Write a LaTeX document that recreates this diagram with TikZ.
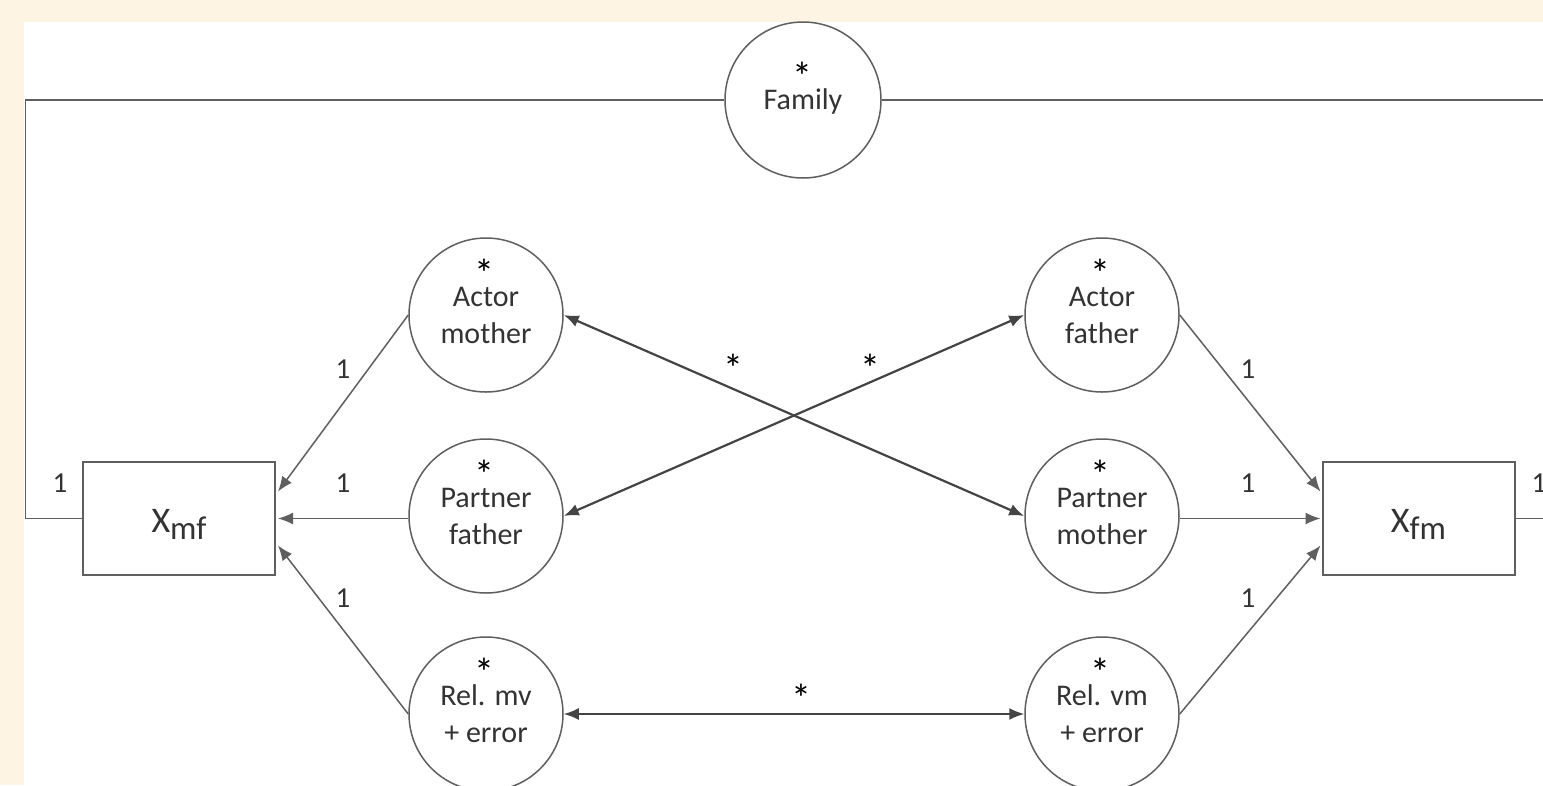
\documentclass[tikz,border=0pt]{standalone}
\usepackage{fontspec}
\setmainfont{Carlito}
\usetikzlibrary{arrows.meta,calc}
\definecolor{cream}{HTML}{FEF4E4}
\definecolor{lin}{HTML}{5F5F5F}
\definecolor{dark}{HTML}{444444}
\definecolor{txt}{HTML}{333333}
\newcommand{\stargl}{\raisebox{0pt}[\height][-15pt]{*}}
\begin{document}
\begin{tikzpicture}[x=1pt,y=-1pt,
  circ/.style={circle,draw=lin,line width=1.5pt,minimum size=154pt,inner sep=0pt,fill=white},
  box/.style={draw=lin,line width=2pt,minimum width=192pt,minimum height=113pt,inner sep=0pt},
  lab/.style={font=\fontsize{30}{37}\selectfont,text=txt,inner sep=0pt},
  strn/.style={font=\fontsize{40}{40}\selectfont,text=black,inner sep=0pt,anchor=base},
  one/.style={font=\fontsize{29}{35}\selectfont,text=txt,inner sep=0pt},
  arr/.style={draw=lin,line width=1.5pt,-{Latex[length=15pt,width=12pt]}},
  darr/.style={draw=dark,line width=2.2pt,{Latex[length=15pt,width=12pt]}-{Latex[length=15pt,width=12pt]}},
  plain/.style={draw=lin,line width=1.8pt}]
\useasboundingbox (0,0) rectangle (1543,785);
\fill[cream] (0,0) rectangle (1543,785);
\fill[white] (24,22) rectangle (1543,785);

% nodes
\node[circ,minimum size=156pt] (fam) at (803,100) {};
\node[circ] (am) at (486,315) {};
\node[circ] (af) at (1102,315) {};
\node[circ] (pf) at (486,516) {};
\node[circ] (pm) at (1102,516) {};
\node[circ] (rmv) at (486,714) {};
\node[circ] (rvm) at (1102,714) {};
\node[box] (xmf) at (179,518.5) {};
\node[box] (xfm) at (1418.5,518.5) {};

\coordinate (tl) at (25.5,100);
\coordinate (tr) at (1543,100);
\coordinate (rr) at (1543,518.5);

% texts
\node[strn] at ($(fam.center)+(-1,-10)$) {\stargl};
\node[lab,anchor=base] at ($(fam.center)+(0,9)$) {Family};
\foreach \n/\a/\b in {am/Actor/mother, af/Actor/father, pf/Partner/father, pm/Partner/mother, rmv/Rel. mv/+ error, rvm/Rel. vm/+ error}{
  \node[strn] at ($(\n.center)+(-2,-28)$) {\stargl};
  \node[lab,anchor=base] at ($(\n.center)+(0,-9)$) {\a};
  \node[lab,anchor=base] at ($(\n.center)+(0,28)$) {\b};
}
\node[anchor=base,inner sep=0pt,text=txt] at ($(xmf.center)+(0,14)$) {\fontsize{36}{40}\selectfont X\raisebox{-7pt}{\fontsize{33}{36}\selectfont mf}};
\node[anchor=base,inner sep=0pt,text=txt] at ($(xfm.center)+(0,14)$) {\fontsize{36}{40}\selectfont X\raisebox{-7pt}{\fontsize{33}{36}\selectfont fm}};

% connectors
\draw[plain] (fam.west) -- (tl) |- (xmf.west);
\draw[plain] (fam.east) -- (tr);
\draw[plain] (xfm.east) -- (rr);

\draw[arr] (am.west) -- ($(xmf.east)+(2,-27)$);
\draw[arr] ($(pf.west)+(0,2.5)$) -- ($(xmf.east)+(2,0)$);
\draw[arr] (rmv.west) -- ($(xmf.east)+(2,27)$);
\draw[arr] (af.east) -- ($(xfm.west)+(-1,-27)$);
\draw[arr] ($(pm.east)+(0,2.5)$) -- ($(xfm.west)+(-1,0)$);
\draw[arr] (rvm.east) -- ($(xfm.west)+(-1,27)$);

\draw[darr] (am.east) -- (pm.west);
\draw[darr] (pf.east) -- (af.west);
\draw[darr,line width=1.8pt] (rmv.east) -- (rvm.west);

% labels
\node[one] at (60,483) {1};
\node[one] at (343,369) {1};
\node[one] at (343,483) {1};
\node[one] at (343,598) {1};
\node[one] at (1248,369) {1};
\node[one] at (1248,483) {1};
\node[one] at (1248,598) {1};
\node[one] at (1539,483) {1};
\node[strn] at (733,382) {\stargl};
\node[strn] at (870,382) {\stargl};
\node[strn] at (801,712) {\stargl};
\end{tikzpicture}
\end{document}
